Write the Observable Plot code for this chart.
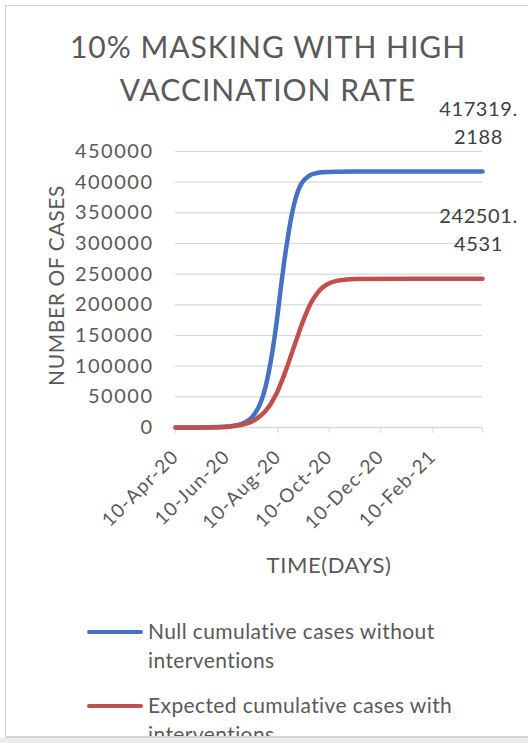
<!DOCTYPE html>
<html>
<head>
<meta charset="utf-8">
<script src="https://cdn.jsdelivr.net/npm/d3@7"></script>
<script src="https://cdn.jsdelivr.net/npm/@observablehq/plot@0.6"></script>
<style>
  body { margin: 0; background: #fff; }
  #frame { position: relative; width: 528px; height: 738px; overflow: hidden; font-family: Lato, "Open Sans", sans-serif; color: #595959; }
  #border { position: absolute; left: 5px; top: 5px; width: 600px; height: 733px; border: 1px solid #d4d4d4; border-bottom-width: 2px; box-sizing: border-box; }
  #shade { width: 528px; height: 5px; background: #ececec; }
  #title { position: absolute; left: 0; top: 25px; width: 536px; text-align: center; font-size: 30px; line-height: 43px; letter-spacing: 1px; }
  #chart { position: absolute; left: 0; top: 100px; }
  #legend { position: absolute; left: 87px; top: 616px; font-size: 21px; line-height: 29px; letter-spacing: 0.4px; }
  .item { display: flex; align-items: flex-start; margin-bottom: 16px; }
  .swatch { width: 56px; height: 4px; border-radius: 2px; margin-top: 14px; margin-right: 5px; flex: none; }
</style>
</head>
<body>
<div id="frame">
  <div id="title">10% MASKING WITH HIGH<br>VACCINATION RATE</div>
  <div id="chart"></div>
  <div id="legend"></div>
  <div id="border"></div>
</div>
<div id="shade"></div>
<script>
// Cumulative case counts over time for the two scenarios
const dates = [
  "2020-04-10", "2020-05-10", "2020-06-01", "2020-06-14", "2020-06-26",
  "2020-07-02", "2020-07-08", "2020-07-14", "2020-07-20", "2020-07-24",
  "2020-07-28", "2020-08-01", "2020-08-05", "2020-08-09", "2020-08-13",
  "2020-08-17", "2020-08-21", "2020-08-25", "2020-08-29", "2020-09-02",
  "2020-09-06", "2020-09-12", "2020-09-18", "2020-09-24", "2020-09-30",
  "2020-10-08", "2020-10-20", "2020-11-10", "2021-01-10", "2021-04-10"
];
const nullCases = [
  0, 150, 700, 1800, 5000,
  8500, 14000, 24000, 40000, 56000,
  78000, 106000, 140000, 180000, 225000,
  268000, 305000, 338000, 364000, 383000,
  396000, 406000, 412000, 414600, 416000,
  416700, 417050, 417250, 417315, 417319.2188
];
const expectedCases = [
  0, 100, 500, 1500, 4000,
  6000, 8500, 13000, 19000, 24000,
  30500, 38000, 47500, 58000, 71000,
  85000, 100000, 116000, 132000, 148000,
  164000, 185000, 203000, 216000, 226000,
  234000, 239500, 242000, 242490, 242501.4531
];

const seriesNames = [
  "Null cumulative cases without interventions",
  "Expected cumulative cases with interventions"
];
const seriesColors = ["#4472C4", "#C0504D"];

const yTicks = [0, 50000, 100000, 150000, 200000, 250000, 300000, 350000, 400000, 450000];
const xTickDates = ["2020-04-10", "2020-06-10", "2020-08-10", "2020-10-10", "2020-12-10", "2021-02-10", "2021-04-10"];
const xTickLabels = ["10-Apr-20", "10-Jun-20", "10-Aug-20", "10-Oct-20", "10-Dec-20", "10-Feb-21", ""];

const parse = d3.utcParse("%Y-%m-%d");
const ticks = xTickDates.map(parse);
const tickLabel = new Map(ticks.map((d, i) => [+d, xTickLabels[i]]));

const series = [nullCases, expectedCases].map((values, k) =>
  values.map((v, i) => ({ date: parse(dates[i]), value: v, series: seriesNames[k] }))
);

// End-of-series value labels, split after the decimal point
const endLabels = series.map(rows => {
  const last = rows[rows.length - 1];
  const [whole, frac] = String(last.value).split(".");
  return { ...last, text: `${whole}.\n${frac}` };
});

const chart = Plot.plot({
  width: 528,
  height: 480,
  marginTop: 51,
  marginBottom: 153,
  marginLeft: 175,
  marginRight: 46,
  style: { fontFamily: "Lato, 'Open Sans', sans-serif", color: "#595959", background: "transparent", overflow: "visible" },
  x: { type: "utc", domain: [ticks[0], ticks[ticks.length - 1]] },
  y: { domain: [0, 450000] },
  marks: [
    Plot.gridY(yTicks, { stroke: "#d9d9d9", strokeOpacity: 1, strokeWidth: 1.2 }),
    Plot.ruleY([0], { stroke: "#d9d9d9", strokeWidth: 1.5 }),
    Plot.axisY(yTicks, {
      tickSize: 0, tickPadding: 22, fontSize: 20, fill: "#595959",
      tickFormat: d3.format("d"), label: null
    }),
    Plot.axisX(ticks, {
      tickSize: 6, stroke: "#d9d9d9", strokeOpacity: 1, fill: "#595959",
      tickRotate: -45, fontSize: 19, tickPadding: 20,
      tickFormat: d => tickLabel.get(+d), label: null
    }),
    Plot.text(["NUMBER OF CASES"], {
      frameAnchor: "left", textAnchor: "middle", dx: -118, dy: -4, rotate: -90, fontSize: 21, fill: "#595959"
    }),
    Plot.text(["TIME(DAYS)"], {
      frameAnchor: "bottom", textAnchor: "middle", lineAnchor: "middle", dy: 138, fontSize: 22, fill: "#595959"
    }),
    Plot.line(series[0], { x: "date", y: "value", stroke: seriesColors[0], strokeWidth: 4.5, curve: "monotone-x" }),
    Plot.line(series[1], { x: "date", y: "value", stroke: seriesColors[1], strokeWidth: 4.5, curve: "monotone-x" }),
    Plot.text(endLabels, {
      x: "date", y: "value", text: "text", dx: -4, dy: -28,
      lineAnchor: "bottom", lineHeight: 1.4, fontSize: 20, fill: "#404040"
    })
  ]
});

// Letter spacing for the axis and label texts
const svg = d3.select(chart);
svg.selectAll('g[aria-label="y-axis tick label"]').style("letter-spacing", "1.5px");
svg.selectAll('g[aria-label="x-axis tick label"]').style("letter-spacing", "1.2px");
svg.selectAll('g[aria-label="text"]').style("letter-spacing", "0.6px");
document.getElementById("chart").append(chart);

// Legend below the chart
const legend = d3.select("#legend");
seriesNames.forEach((name, k) => {
  const item = legend.append("div").attr("class", "item");
  item.append("div").attr("class", "swatch").style("background", seriesColors[k]);
  item.append("div").style("width", "320px").text(name);
});
</script>
</body>
</html>
